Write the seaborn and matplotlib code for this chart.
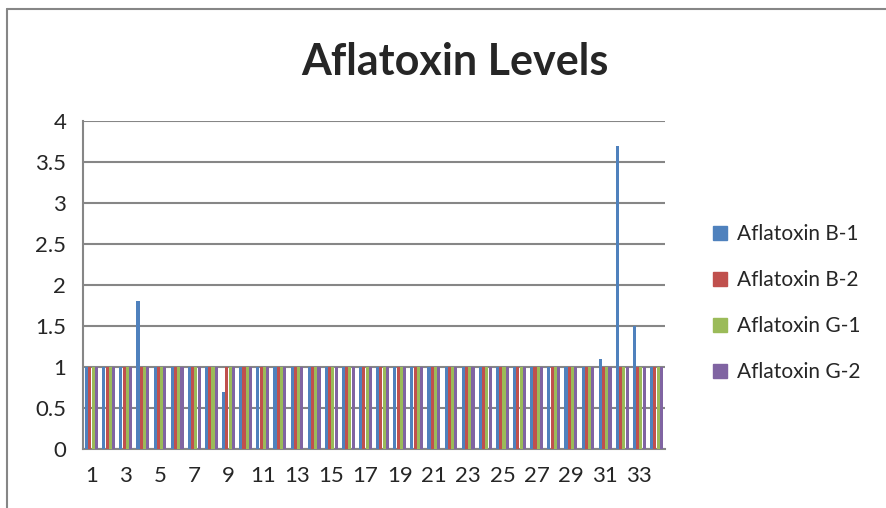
import numpy as np
import pandas as pd
import seaborn as sns
import matplotlib.pyplot as plt
from matplotlib.lines import Line2D

# sample numbers 1..34
samples = list(range(1, 35))
series_names = ['Aflatoxin B-1', 'Aflatoxin B-2', 'Aflatoxin G-1', 'Aflatoxin G-2']

b1 = [1, 1, 1, 1.8, 1, 1, 1, 1, 0.7, 1, 1, 1, 1, 1, 1, 1, 1,
      1, 1, 1, 1, 1, 1, 1, 1, 1, 1, 1, 1, 1, 1.1, 3.7, 1.5, 1]
b2 = [1] * 34
g1 = [1] * 34
g2 = [1] * 34

colors = ['#4F81BD', '#C0504D', '#9BBB59', '#8064A2']

df = pd.DataFrame({
    'sample': samples * 4,
    'series': np.repeat(series_names, len(samples)),
    'value': b1 + b2 + g1 + g2,
})

sns.set_style("white")
plt.rcParams['font.family'] = ['Lato', 'DejaVu Sans']

fig = plt.figure(figsize=(8.87, 5.08), dpi=100)
ax = fig.add_axes([83 / 887, 1 - 449 / 508, (665 - 83) / 887, (449 - 121) / 508])

sns.barplot(data=df, x='sample', y='value', hue='series', palette=colors,
            width=0.76, gap=0.05, saturation=1, linewidth=0, antialiased=False,
            ax=ax, legend=False, zorder=3)

ax.set_ylim(0, 4)
ax.set_yticks(np.arange(0, 4.01, 0.5))
ax.set_yticklabels(['0', '0.5', '1', '1.5', '2', '2.5', '3', '3.5', '4'])
ax.set_xlim(-0.5, len(samples) - 0.5)
ax.set_xticks(range(0, len(samples), 2))
ax.set_xticklabels([str(s) for s in samples[::2]])
ax.tick_params(axis='both', length=0, labelsize=16, pad=12)
ax.set_xlabel('')
ax.set_ylabel('')
ax.yaxis.grid(True, color='#868686', linewidth=1.5, zorder=0)
ax.set_axisbelow(True)
for side in ['top', 'right']:
    ax.spines[side].set_visible(False)
for side in ['left', 'bottom']:
    ax.spines[side].set_color('#868686')
    ax.spines[side].set_linewidth(1.5)

handles = [Line2D([], [], marker='s', linestyle='', markersize=10,
                  markerfacecolor=c, markeredgecolor=c) for c in colors]
fig.legend(handles, series_names, loc='center left',
           bbox_to_anchor=(691 / 887, 1 - 303 / 508), frameon=False,
           fontsize=15, labelspacing=1.25, handletextpad=0.3,
           handlelength=1.0)

fig.text(455 / 887, 1 - 62 / 508, 'Aflatoxin Levels', ha='center', va='center',
         fontsize=31, fontweight='bold')

# chart border
fig.add_artist(Line2D([7 / 887, 7 / 887], [0, 1 - 9 / 508], color='#868686',
                      linewidth=1.5, transform=fig.transFigure))
fig.add_artist(Line2D([7 / 887, 1], [1 - 9 / 508, 1 - 9 / 508], color='#868686',
                      linewidth=1.5, transform=fig.transFigure))

fig.savefig('out.png', dpi=100)
